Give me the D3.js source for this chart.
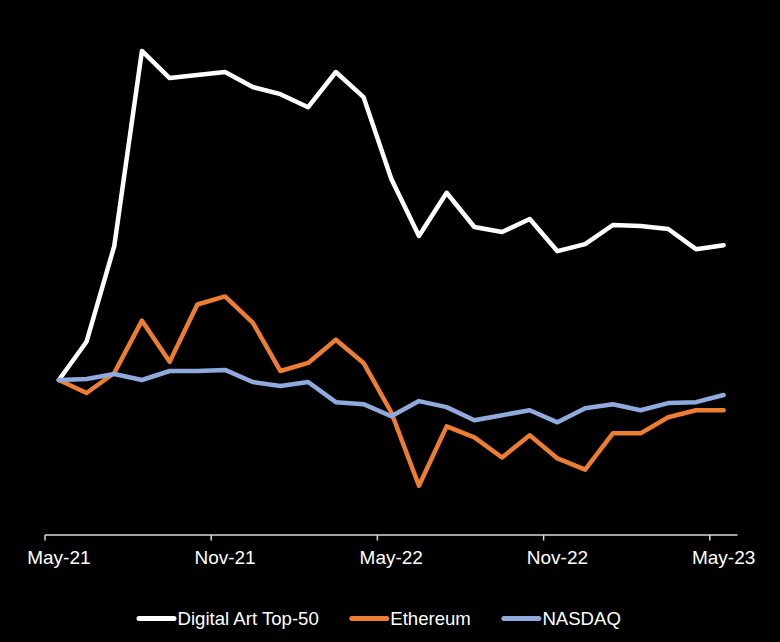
<!DOCTYPE html>
<html>
<head>
<meta charset="utf-8">
<script src="https://cdn.jsdelivr.net/npm/d3@7"></script>
<style>
  html, body { margin: 0; padding: 0; background: #000; }
  svg { display: block; }
</style>
</head>
<body>
<svg id="chart" width="780" height="642"></svg>
<script>
// ---- data ----
const months = [
  "May-21","Jun-21","Jul-21","Aug-21","Sep-21","Oct-21","Nov-21","Dec-21",
  "Jan-22","Feb-22","Mar-22","Apr-22","May-22","Jun-22","Jul-22","Aug-22",
  "Sep-22","Oct-22","Nov-22","Dec-22","Jan-23","Feb-23","Mar-23","Apr-23","May-23"
];
const tickLabels = ["May-21","Nov-21","May-22","Nov-22","May-23"];
const digitalArt = [100, 124.7, 186.4, 312.3, 294.8, 296.8, 298.7, 289.0, 284.4, 276.0, 298.7, 282.5,
  229.9, 192.9, 220.8, 198.7, 195.5, 203.9, 183.1, 187.7, 200.0, 199.4, 197.4, 184.4, 187.0];
const ethereum = [100, 91.6, 104.5, 138.3, 111.7, 148.7, 153.9, 137.0, 105.8, 111.0, 126.0, 111.0,
  79.2, 31.8, 70.1, 63.0, 50.0, 64.3, 49.4, 42.2, 65.6, 65.6, 76.0, 80.5, 80.5];
const nasdaq = [100, 100.6, 103.9, 100, 105.8, 105.8, 106.5, 98.7, 96.1, 98.7, 85.7, 84.4,
  76.6, 86.4, 82.5, 74.0, 77.3, 80.5, 72.7, 81.8, 84.4, 80.5, 85.1, 85.7, 90.3];
const seriesNames = ["Digital Art Top-50", "Ethereum", "NASDAQ"];
const seriesColors = ["#FFFFFF", "#ED7D31", "#8FAADC"];

// ---- layout ----
const svg = d3.select("#chart");
svg.append("rect").attr("width", 780).attr("height", 642).attr("fill", "#000");

const plotLeft = 45, plotRight = 737.5, axisY = 535;
const x = d3.scaleBand().domain(months).range([plotLeft, plotRight]).padding(0);
const y = d3.scaleLinear().domain([0, 100]).range([axisY, 380]);
const cx = m => x(m) + x.bandwidth() / 2;

// ---- axis ----
const axis = svg.append("g");
axis.append("line")
  .attr("x1", plotLeft).attr("x2", plotRight)
  .attr("y1", axisY).attr("y2", axisY)
  .attr("stroke", "#D9D9D9").attr("stroke-width", 1.5);
axis.selectAll("line.tick").data(tickLabels).enter().append("line")
  .attr("class", "tick")
  .attr("x1", d => x(d)).attr("x2", d => x(d))
  .attr("y1", axisY).attr("y2", axisY + 5.5)
  .attr("stroke", "#D9D9D9").attr("stroke-width", 1.5);
axis.selectAll("text").data(tickLabels).enter().append("text")
  .attr("x", d => cx(d)).attr("y", 564)
  .attr("text-anchor", "middle")
  .attr("fill", "#FFFFFF")
  .style("font-family", "'Liberation Sans', Arial, sans-serif")
  .style("font-size", "19px")
  .text(d => d);

// ---- lines ----
const allSeries = [digitalArt, ethereum, nasdaq];
const line = d3.line().x((d, i) => cx(months[i])).y(d => y(d));
svg.append("g").selectAll("path").data(allSeries).enter().append("path")
  .attr("d", d => line(d))
  .attr("fill", "none")
  .attr("stroke", (d, i) => seriesColors[i])
  .attr("stroke-width", 4.5)
  .attr("stroke-linejoin", "round")
  .attr("stroke-linecap", "round");

// ---- legend ----
const legend = svg.append("g");
let lx = 137;
const ly = 618.5;
seriesNames.forEach((name, i) => {
  legend.append("line")
    .attr("x1", lx + 2).attr("x2", lx + 37)
    .attr("y1", ly).attr("y2", ly)
    .attr("stroke", seriesColors[i]).attr("stroke-width", 5)
    .attr("stroke-linecap", "round");
  const t = legend.append("text")
    .attr("x", lx + 40.5).attr("y", ly + 6.5)
    .attr("fill", "#FFFFFF")
    .style("font-family", "'Liberation Sans', Arial, sans-serif")
    .style("font-size", "18.6px")
    .text(name);
  const w = t.node().getComputedTextLength();
  lx = lx + 40.5 + w + 31;
});
</script>
</body>
</html>
